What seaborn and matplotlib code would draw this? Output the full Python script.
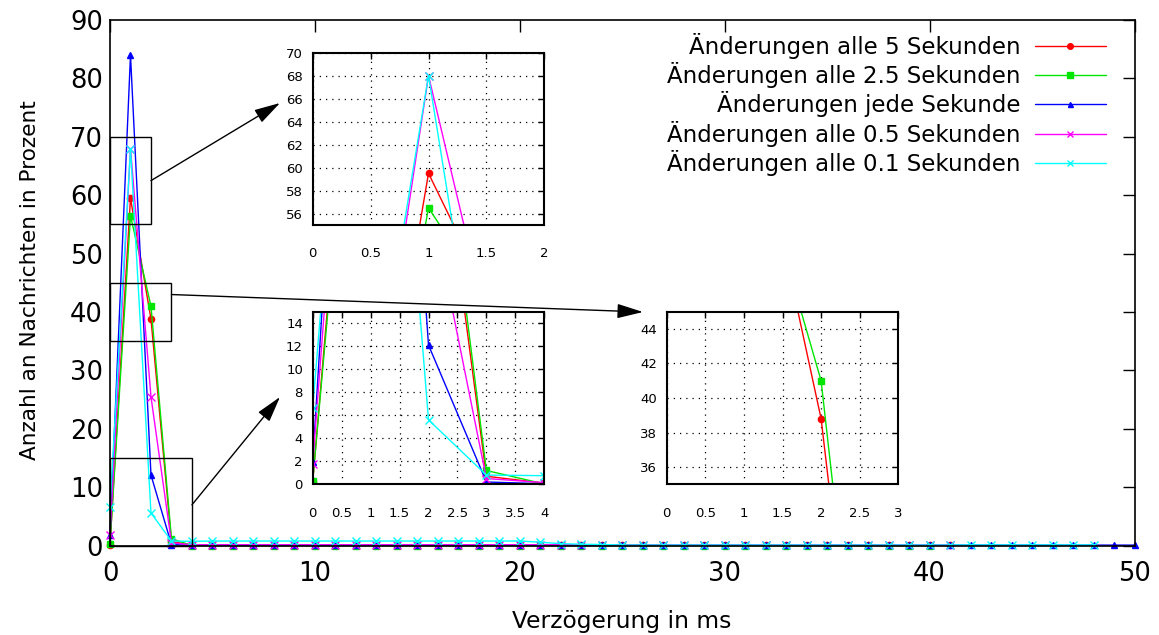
import matplotlib
matplotlib.use("Agg")
import matplotlib.pyplot as plt
import numpy as np
import pandas as pd
import seaborn as sns
from matplotlib.lines import Line2D
from matplotlib.patches import Rectangle
from matplotlib.ticker import FuncFormatter, MultipleLocator

sns.set_theme(style="white")
plt.rcParams["font.family"] = ["DejaVu Sans"]
plt.rcParams["text.color"] = "black"

# ---------------- data ----------------
series_names = [
    "Änderungen alle 5 Sekunden",
    "Änderungen alle 2.5 Sekunden",
    "Änderungen jede Sekunde",
    "Änderungen alle 0.5 Sekunden",
    "Änderungen alle 0.1 Sekunden",
]

# percentage of messages per delay bucket (ms), delay = index 0, 1, 2, ...
red_vals = [0.2, 59.5, 38.8, 0.7, 0.1,
            0.05, 0.05, 0.05, 0.05, 0.05, 0.05, 0.05, 0.05, 0.05, 0.05,
            0.05, 0.05, 0.05, 0.05, 0.05, 0.05, 0.05, 0.05, 0.05, 0.05,
            0.05, 0.05, 0.05, 0.05, 0.05, 0.05, 0.05, 0.05, 0.05, 0.05,
            0.05, 0.05, 0.05, 0.05, 0.05, 0.05, 0.05]
green_vals = [0.3, 56.5, 41.0, 1.2, 0.03,
              0.03, 0.03, 0.03, 0.03, 0.03, 0.03, 0.03, 0.03, 0.03, 0.03,
              0.03, 0.03, 0.03, 0.03, 0.03, 0.03, 0.03, 0.03, 0.03, 0.03,
              0.03, 0.03, 0.03, 0.03, 0.03, 0.03, 0.03, 0.03, 0.03, 0.03,
              0.03, 0.03, 0.03, 0.03, 0.03, 0.03]
blue_vals = [1.9, 84.0, 12.1, 0.2, 0.05,
             0.1, 0.1, 0.1, 0.1, 0.1, 0.1, 0.1, 0.1, 0.1, 0.1,
             0.1, 0.1, 0.1, 0.1, 0.1, 0.1, 0.1, 0.1, 0.1, 0.1,
             0.1, 0.1, 0.1, 0.1, 0.1, 0.1, 0.1, 0.1, 0.1, 0.1,
             0.1, 0.1, 0.1, 0.1, 0.1, 0.1, 0.1, 0.1, 0.1, 0.1,
             0.1, 0.1, 0.1, 0.1, 0.1, 0.1]
magenta_vals = [1.8, 68.0, 25.5, 0.5, 0.15,
                0.15, 0.15, 0.15, 0.15, 0.15, 0.15, 0.15, 0.15, 0.15, 0.15,
                0.15, 0.15, 0.15, 0.15, 0.15, 0.15, 0.15, 0.15, 0.15, 0.15,
                0.15, 0.15, 0.15, 0.15, 0.15, 0.15, 0.15, 0.15, 0.15, 0.15,
                0.15, 0.15, 0.15, 0.15, 0.15, 0.15, 0.15]
cyan_vals = [6.6, 68.0, 5.6, 0.8, 0.75,
             0.8, 0.8, 0.8, 0.8, 0.8, 0.8, 0.8, 0.8, 0.8, 0.8,
             0.8, 0.8, 0.8, 0.8, 0.8, 0.8, 0.6, 0.35, 0.25, 0.2,
             0.12, 0.12, 0.12, 0.12, 0.12, 0.12, 0.12, 0.12, 0.12, 0.12,
             0.12, 0.12, 0.12, 0.12, 0.12, 0.12, 0.12, 0.12, 0.12, 0.12,
             0.12, 0.12, 0.12, 0.12]

all_vals = [red_vals, green_vals, blue_vals, magenta_vals, cyan_vals]

rows = []
for name, vals in zip(series_names, all_vals):
    for d, v in enumerate(vals):
        rows.append({"delay": d, "percent": v, "series": name})
df = pd.DataFrame(rows)

# ---------------- styles ----------------
colors = ["#ff0000", "#00e600", "#0000ff", "#ff00ff", "#00ffff"]
markers = ["o", "s", "^", "x", "x"]
msizes = [4.5, 5, 4, 5.5, 5.5]

W, H = 1159, 635
fig = plt.figure(figsize=(W / 100, H / 100), dpi=100)
fig.patch.set_facecolor("white")

def frac_box(left, top, right, bottom):
    return [left / W, 1 - bottom / H, (right - left) / W, (bottom - top) / H]

ax = fig.add_axes(frac_box(110, 20, 1134.5, 545.7))
ax.set_facecolor("white")


def draw_series(axis, clip, which, min_delay=0, lw=1.0):
    for i in which:
        name, c, m, ms = series_names[i], colors[i], markers[i], msizes[i]
        sub = df[(df["series"] == name) & (df["delay"] >= min_delay)]
        sns.lineplot(data=sub, x="delay", y="percent", ax=axis, color=c,
                     marker=m, markersize=ms, markeredgecolor=c,
                     markerfacecolor=c, markeredgewidth=1.0, linewidth=lw,
                     estimator=None, sort=False, legend=False, clip_on=clip)


draw_series(ax, clip=False, which=[0, 1, 2, 3, 4])

ax.set_xlim(0, 50)
ax.set_ylim(0, 90)
ax.xaxis.set_major_locator(MultipleLocator(10))
ax.yaxis.set_major_locator(MultipleLocator(10))
ax.tick_params(axis="both", direction="in", length=8.5, width=1.0,
               color="black", top=True, right=True, labelsize=18.5,
               labelcolor="black")
ax.tick_params(axis="x", pad=11)
ax.tick_params(axis="y", pad=5)
for s in ax.spines.values():
    s.set_color("black")
    s.set_linewidth(1.2)
ax.grid(False)

ax.set_xlabel("Verzögerung in ms", fontsize=16.8, color="black")
ax.xaxis.set_label_coords(622 / W, 0.040, transform=fig.transFigure)
ax.set_ylabel("Anzahl an Nachrichten in Prozent", fontsize=15.6, color="black")
ax.yaxis.set_label_coords(40 / W, 1 - 280 / H, transform=fig.transFigure)

# zoom rectangles
for (x0, y0, x1, y1) in [(0, 55, 2, 70), (0, 35, 3, 45), (0, 0, 4, 15)]:
    ax.add_patch(Rectangle((x0, y0), x1 - x0, y1 - y0, fill=False,
                           edgecolor="black", linewidth=1.0, zorder=5,
                           clip_on=False))

# arrows from rectangles to insets
for start, tip in [((2, 62.5), (280, H - 103)),
                   ((3, 43.0), (643, H - 312)),
                   ((4, 7.0), (280, H - 397))]:
    ax.annotate("", xy=tip, xycoords="figure pixels", xytext=start,
                textcoords="data", annotation_clip=False,
                arrowprops=dict(arrowstyle="-|>,head_length=1.0,head_width=0.28",
                                mutation_scale=16, color="black", lw=1.0,
                                shrinkA=0, shrinkB=0))

# legend
handles = [Line2D([0], [0], color=c, marker=m, markersize=ms * 0.9,
                  markeredgecolor=c, markerfacecolor=c, linewidth=1.0)
           for c, m, ms in zip(colors, markers, msizes)]
leg = ax.legend(handles, series_names, loc="upper right",
                bbox_to_anchor=(1105.7 / W, 1 - 33 / H),
                bbox_transform=fig.transFigure, frameon=False, markerfirst=False,
                fontsize=16.5, handlelength=3.1, handletextpad=0.6,
                labelspacing=0.14, borderpad=0, borderaxespad=0)
for t in leg.get_texts():
    t.set_color("black")

# ---------------- insets ----------------
fmt = FuncFormatter(lambda v, p: f"{v:g}")
insets = [
    (frac_box(312.7, 52.7, 544.3, 225.0), (0, 2), (55, 70), 0.5,
     [56, 58, 60, 62, 64, 66, 68, 70], [0, 1, 3, 4], 0),
    (frac_box(312.7, 311.7, 544.3, 484.3), (0, 4), (0, 15), 0.5,
     [0, 2, 4, 6, 8, 10, 12, 14], [0, 1, 2, 3, 4], 0),
    (frac_box(666.7, 311.7, 898.3, 484.3), (0, 3), (35, 45), 0.5,
     [36, 38, 40, 42, 44], [0, 1], 1),
]
for rect, xl, yl, xstep, yt, which, mind in insets:
    ia = fig.add_axes(rect)
    ia.set_facecolor("white")
    draw_series(ia, clip=True, which=which, min_delay=mind, lw=1.0)
    ia.set_xlim(*xl)
    ia.set_ylim(*yl)
    ia.xaxis.set_major_locator(MultipleLocator(xstep))
    ia.set_yticks(yt)
    ia.xaxis.set_major_formatter(fmt)
    ia.yaxis.set_major_formatter(fmt)
    ia.tick_params(axis="both", direction="in", length=4, width=1.0,
                   color="black", top=True, right=True, labelsize=9.5,
                   labelcolor="black")
    ia.tick_params(axis="x", pad=16)
    ia.tick_params(axis="y", pad=7)
    ia.grid(True, color="black", linestyle=(0, (1, 4)), linewidth=0.9)
    ia.set_xlabel("")
    ia.set_ylabel("")
    for s in ia.spines.values():
        s.set_color("black")
        s.set_linewidth(1.5)

fig.savefig("out.png", dpi=100, facecolor="white")
